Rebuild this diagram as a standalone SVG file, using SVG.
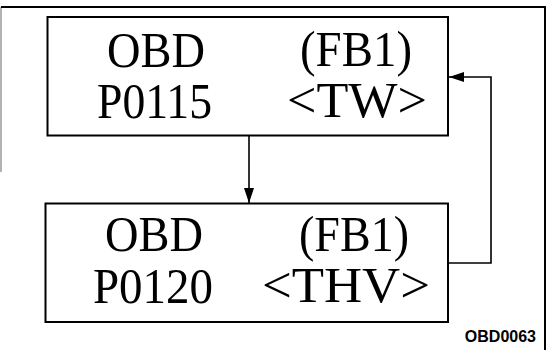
<svg xmlns="http://www.w3.org/2000/svg" width="551" height="350" viewBox="0 0 551 350">
<style>
.box{fill:#fff;stroke:#000;stroke-width:2}
.t{font-family:"Liberation Serif","Times New Roman",serif;font-size:51px;fill:#000}
.line{fill:none;stroke:#000;stroke-width:1.6}
.frame{fill:none;stroke:#000;stroke-width:2}
.faint{fill:none;stroke:#666;stroke-width:1}
.cap{font-family:"Liberation Sans",Arial,sans-serif;font-size:16px;font-weight:bold;fill:#000}
</style>
<defs>
<marker id="arr" viewBox="0 0 15 10" refX="15" refY="5" markerWidth="15" markerHeight="10" markerUnits="userSpaceOnUse" orient="auto">
<path d="M0,0 L15,5 L0,10 Z" fill="#000"/>
</marker>
</defs>
<g id="frame">
<path class="faint" d="M1,172 L1,7"/>
<path class="frame" d="M1,7 L545,7 L545,350"/>
</g>
<g id="node1">
<rect class="box" x="47.5" y="17" width="400.5" height="118.5"/>
<text class="t" x="107" y="67" textLength="98" lengthAdjust="spacingAndGlyphs">OBD</text>
<text class="t" x="300" y="66" textLength="112" lengthAdjust="spacingAndGlyphs">(FB1)</text>
<text class="t" x="97" y="118" textLength="115" lengthAdjust="spacingAndGlyphs">P0115</text>
<text class="t" x="287" y="117" textLength="140" lengthAdjust="spacingAndGlyphs">&lt;TW&gt;</text>
</g>
<g id="node2">
<rect class="box" x="45.5" y="203.5" width="402.5" height="118.5"/>
<text class="t" x="105" y="251" textLength="98" lengthAdjust="spacingAndGlyphs">OBD</text>
<text class="t" x="299" y="251" textLength="110" lengthAdjust="spacingAndGlyphs">(FB1)</text>
<text class="t" x="93" y="303" textLength="120" lengthAdjust="spacingAndGlyphs">P0120</text>
<text class="t" x="262" y="302" textLength="168" lengthAdjust="spacingAndGlyphs">&lt;THV&gt;</text>
</g>
<g id="connectors">
<path class="line" d="M249,136 L249,203" marker-end="url(#arr)"/>
<path class="line" d="M448,263 L491,263 L491,77 L449,77" marker-end="url(#arr)"/>
</g>
<text class="cap" x="536" y="342" text-anchor="end">OBD0063</text>
</svg>
